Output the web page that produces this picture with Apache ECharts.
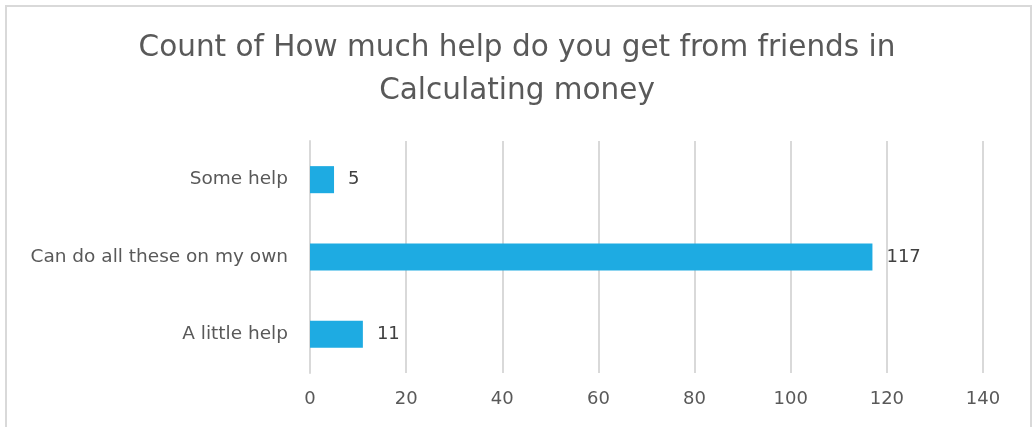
<!DOCTYPE html>
<html>
<head>
<meta charset="utf-8">
<script src="https://cdn.jsdelivr.net/npm/echarts@6/dist/echarts.min.js"></script>
<style>html,body{margin:0;padding:0;background:#fff}#c{width:1034px;height:427px}</style>
</head>
<body>
<div id="c"></div>
<script>
const titleText = "Count of How much help do you get from friends in\nCalculating money";
const categories = ["A little help", "Can do all these on my own", "Some help"];
const counts = [11, 117, 5];
const xTicks = { min: 0, max: 140, interval: 20 };

const FONT = "'DejaVu Sans', 'Noto Sans', sans-serif";
const chart = echarts.init(document.getElementById('c'), null, { renderer: 'canvas' });
chart.setOption({
  backgroundColor: '#ffffff',
  animation: false,
  graphic: [{
    type: 'rect',
    shape: { x: 6, y: 6, width: 1025, height: 440 },
    style: { fill: 'none', stroke: '#d9d9d9', lineWidth: 2 },
    silent: true, z: -1
  }],
  title: {
    text: titleText,
    left: 'center',
    top: 22,
    textStyle: { fontFamily: FONT, fontSize: 29.5, fontWeight: 'normal', color: '#595959', lineHeight: 43 }
  },
  grid: { left: 310, right: 51, top: 141, bottom: 54, containLabel: false },
  xAxis: {
    type: 'value',
    min: xTicks.min, max: xTicks.max, interval: xTicks.interval,
    axisLine: { show: false },
    axisTick: { show: false },
    splitLine: { show: true, lineStyle: { color: '#d9d9d9', width: 2 } },
    axisLabel: { fontFamily: FONT, fontSize: 18, color: '#595959', margin: 17 }
  },
  yAxis: {
    type: 'category',
    data: categories,
    axisLine: { show: true, lineStyle: { color: '#d9d9d9', width: 2 } },
    axisTick: { show: false },
    axisLabel: { fontFamily: FONT, fontSize: 18.5, color: '#595959', margin: 22 }
  },
  series: [{
    type: 'bar',
    data: counts,
    barWidth: '35%',
    itemStyle: { color: '#1eabe2' },
    label: {
      show: true, position: 'right', distance: 14,
      fontFamily: FONT, fontSize: 18, color: '#404040'
    }
  }]
});
</script>
</body>
</html>
